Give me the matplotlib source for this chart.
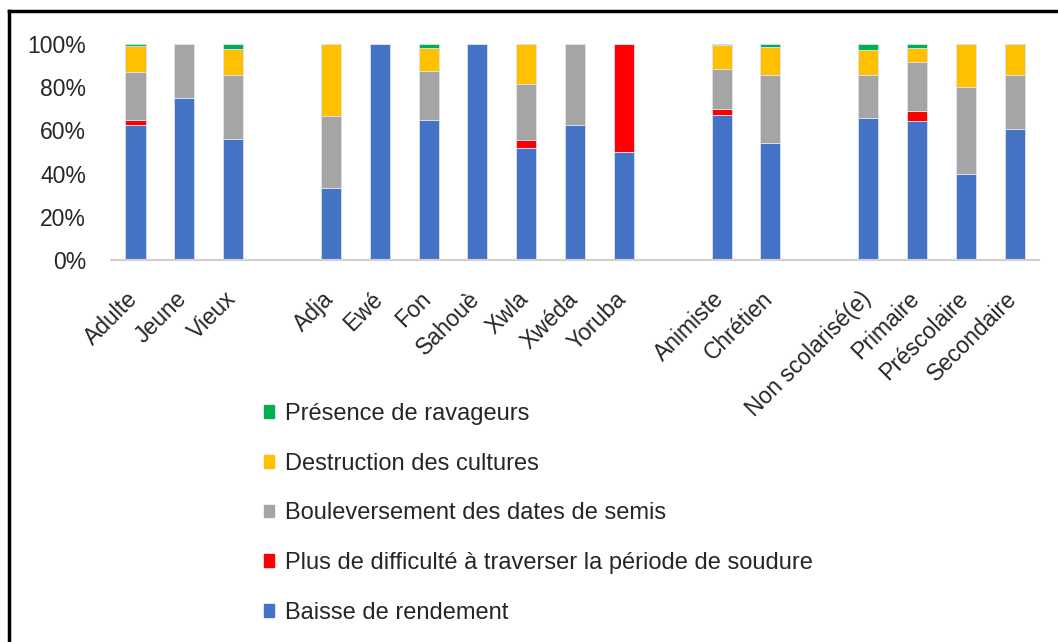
import matplotlib
matplotlib.use("Agg")
import matplotlib.pyplot as plt
import matplotlib.transforms as mtransforms
from matplotlib.patches import Patch
from matplotlib.lines import Line2D
import numpy as np

plt.rcParams["font.family"] = ["Liberation Sans", "DejaVu Sans"]

categories = ["Adulte", "Jeune", "Vieux",
              "Adja", "Ewé", "Fon", "Sahouè", "Xwla", "Xwéda", "Yoruba",
              "Animiste", "Chrétien",
              "Non scolarisé(e)", "Primaire", "Préscolaire", "Secondaire"]
# slot index of each bar (empty slots separate the groups)
slots = [0, 1, 2, 4, 5, 6, 7, 8, 9, 10, 12, 13, 15, 16, 17, 18]

series = ["Baisse de rendement",
          "Plus de difficulté à traverser la période de soudure",
          "Bouleversement des dates de semis",
          "Destruction des cultures",
          "Présence de ravageurs"]
colors = ["#4472C4", "#FF0000", "#A5A5A5", "#FFC000", "#00B050"]

baisse      = [62.5, 75.0, 56.0, 33.3, 100, 64.6, 100, 52.0, 62.5, 50.0, 67.0, 54.0, 65.8, 64.4, 39.6, 60.5]
soudure     = [2.2, 0, 0, 0, 0, 0, 0, 3.4, 0, 50.0, 2.8, 0, 0, 4.8, 0, 0]
semis       = [22.1, 25.0, 29.6, 33.3, 0, 23.0, 0, 26.3, 37.5, 0, 18.4, 31.6, 19.8, 22.4, 40.6, 25.1]
destruction = [12.4, 0, 11.9, 33.4, 0, 10.4, 0, 18.3, 0, 0, 11.2, 13.2, 11.8, 6.4, 19.8, 14.4]
ravageurs   = [0.8, 0, 2.5, 0, 0, 2.0, 0, 0, 0, 0, 0.6, 1.2, 2.6, 2.0, 0, 0]
values = [baisse, soudure, semis, destruction, ravageurs]

fig = plt.figure(figsize=(10.58, 6.42), dpi=100)
ax = fig.add_axes([0.105, 0.595, 0.877, 0.3365])

x = np.array(slots)
bottom = np.zeros(len(categories))
for name, vals, c in zip(series, values, colors):
    v = np.array(vals) / 100
    ax.bar(x, v, 0.41, bottom=bottom, color=c, label=name,
           edgecolor="#dce3f0", linewidth=0.6)
    bottom += v

ax.set_xlim(-0.5, 18.5)
ax.set_ylim(0, 1.0)
ax.set_yticks(np.linspace(0, 1, 6))
ax.set_yticklabels([f"{int(t)}%" for t in np.linspace(0, 100, 6)], fontsize=16.5,
                   color="#262626")
ax.tick_params(axis="y", length=0, pad=18)
ax.tick_params(axis="x", length=0, pad=14)
ax.set_xticks(x)
ax.set_xticklabels(categories, rotation=45, ha="right", rotation_mode="anchor",
                   fontsize=16.5, color="#262626")
# nudge rotated labels down-left, as in the original
shift = mtransforms.ScaledTranslation(-0.09, -0.08, fig.dpi_scale_trans)
for lab in ax.get_xticklabels():
    lab.set_transform(lab.get_transform() + shift)
for s in ["top", "right", "left"]:
    ax.spines[s].set_visible(False)
ax.spines["bottom"].set_color("#d0d0d0")
ax.spines["bottom"].set_linewidth(1.5)

handles = [Patch(facecolor=c, edgecolor=c) for c in colors][::-1]
fig.legend(handles, series[::-1], loc="upper left", bbox_to_anchor=(0.229, 0.405),
           frameon=False, fontsize=17, handlelength=0.45, handleheight=0.45,
           handletextpad=0.45, labelspacing=1.17, labelcolor="#262626")

# image frame (top and left edges)
fig.add_artist(Line2D([0.0085, 0.0085], [0, 0.983], color="black", lw=2.5,
                      transform=fig.transFigure))
fig.add_artist(Line2D([0.0085, 1.0], [0.983, 0.983], color="black", lw=2.5,
                      transform=fig.transFigure))

fig.savefig("out.png", dpi=100)
